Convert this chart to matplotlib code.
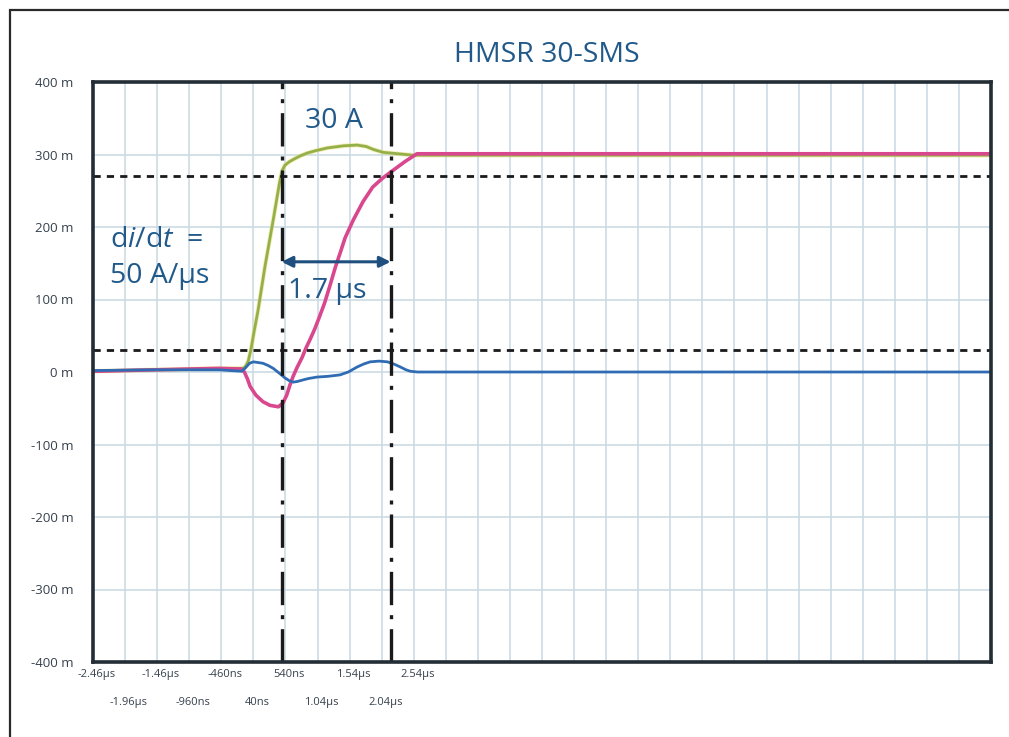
import numpy as np
import matplotlib
matplotlib.use("Agg")
import matplotlib.pyplot as plt
from matplotlib.patches import Rectangle

W, H = 1009, 737

# time base in microseconds, signal values in milli-units
T_MIN, T_MAX = -2.46, 11.54
GRID_STEP = 0.5
Y_TICKS = [-400, -300, -200, -100, 0, 100, 200, 300, 400]

x_labels = ["-2.46µs", "-1.96µs", "-1.46µs", "-960ns", "-460ns", "40ns",
            "540ns", "1.04µs", "1.54µs", "2.04µs", "2.54µs"]

# reference current (green)
green_t = [-2.46, -1.5, -0.5, -0.12, -0.08, -0.04, 0.0, 0.05, 0.115, 0.22,
           0.35, 0.45, 0.49, 0.53, 0.6, 0.68, 0.77, 0.88, 1.0, 1.19, 1.45,
           1.66, 1.8, 1.91, 2.06, 2.3, 2.53, 11.54]
green_v = [1, 3, 5, 5, 8, 15, 30, 55, 86, 145, 210, 262, 278, 285, 290, 294,
           298, 302, 305, 309, 312, 313, 311, 307, 303, 301, 299, 299]

# sensor output (pink)
pink_t = [-2.46, -1.5, -0.5, -0.14, -0.1, -0.05, -0.01, 0.08, 0.19, 0.3,
          0.43, 0.5, 0.56, 0.61, 0.66, 0.72, 0.8, 0.86, 0.93, 1.0, 1.07,
          1.15, 1.23, 1.32, 1.4, 1.47, 1.6, 1.75, 1.9, 2.05, 2.2, 2.4,
          2.59, 11.54]
pink_v = [1, 3, 5, 4, 0, -10, -20, -32, -41, -46, -48, -43, -32, -18, -6,
          6, 20, 33, 46, 60, 76, 95, 118, 145, 166, 185, 210, 235, 255,
          267, 277, 290, 301, 301]

# error signal (blue)
blue_t = [-2.46, -1.5, -0.5, -0.14, -0.08, -0.02, 0.04, 0.12, 0.19, 0.27,
          0.35, 0.45, 0.53, 0.6, 0.66, 0.73, 0.81, 0.9, 1.03, 1.2, 1.39,
          1.52, 1.66, 1.76, 1.86, 2.0, 2.13, 2.23, 2.33, 2.42, 2.49, 2.6,
          11.54]
blue_v = [2, 3, 3, 1, 6, 12, 14, 13, 12, 9, 5, -2, -8, -12, -14, -13, -11,
          -9, -7, -6, -4, 0, 7, 11, 14, 15, 14, 11, 7, 3, 1, 0, 0]

LEVEL_LO, LEVEL_HI = 30, 270
MARK_A, MARK_B = 0.48, 2.18
ARROW_Y = 152

TXT = "#215a8a"
TICK = "#36414c"
BIG = 20.5

plt.rcParams["font.family"] = ["Open Sans", "DejaVu Sans"]
plt.rcParams["mathtext.fontset"] = "custom"
plt.rcParams["mathtext.rm"] = "Open Sans"
plt.rcParams["mathtext.it"] = "Open Sans:italic"


def px(x, y):
    return x / W, 1 - y / H


fig = plt.figure(figsize=(W / 100, H / 100), dpi=100)
fig.patch.set_facecolor("white")

# outer frame running off the right and bottom edges
fig.patches.append(Rectangle(px(10, 760), 1.2, (760 - 10) / H,
                             transform=fig.transFigure, fill=False,
                             edgecolor="#2a2a2a", lw=1.6))

ax = fig.add_axes([93 / W, 1 - 662 / H, 898 / W, 580 / H])
ax.set_xlim(T_MIN, T_MAX)
ax.set_ylim(-400, 400)

grid_x = np.arange(T_MIN, T_MAX + 1e-6, GRID_STEP)
ax.set_xticks(grid_x)
ax.set_xticklabels([])
ax.set_yticks(Y_TICKS)
ax.set_yticklabels([f"{v} m" for v in Y_TICKS], fontsize=9.5, color=TICK)
ax.tick_params(length=0, pad=14)
ax.grid(True, color="#c9d8e3", lw=1.1)
ax.set_axisbelow(True)
for s in ax.spines.values():
    s.set_color("#222d35")
    s.set_linewidth(2.6)

# staggered time labels below the axis
for i, lab in enumerate(x_labels):
    tx = T_MIN + i * GRID_STEP
    yy = -0.022 if i % 2 == 0 else -0.07
    ax.text(tx + 0.06, yy, lab, transform=ax.get_xaxis_transform(),
            ha="center", va="center", fontsize=8, color=TICK)

ax.plot(green_t, green_v, color="#e8dc6a", lw=3.2, alpha=0.5,
        solid_capstyle="butt")
ax.plot(green_t, green_v, color="#95b04a", lw=2)
ax.plot(pink_t, pink_v, color="#d9488f", lw=2.6)
ax.plot(blue_t, blue_v, color="#2f6cb3", lw=2)

for lvl in (LEVEL_LO, LEVEL_HI):
    ax.axhline(lvl, color="#1a1a1a", lw=2, dashes=(2.6, 2.2))
for mk in (MARK_A, MARK_B):
    ax.axvline(mk, color="#1a1a1a", lw=2.4, dashes=(10, 3, 1.2, 3))

ax.annotate("", xy=(MARK_A, ARROW_Y), xytext=(MARK_B, ARROW_Y),
            arrowprops=dict(arrowstyle="<|-|>", color="#1f4f7f", lw=2.2,
                            mutation_scale=16, shrinkA=0, shrinkB=0))

fig.text(*px(547, 55), "HMSR 30-SMS", ha="center", va="center",
         fontsize=BIG, color=TXT)
fig.text(*px(305, 128), "30 A", ha="left", va="baseline", fontsize=BIG,
         color=TXT)
fig.text(*px(110, 247), r"d$\mathit{i}$/d$\mathit{t}$  =", ha="left",
         va="baseline", fontsize=BIG, color=TXT)
fig.text(*px(110, 283), "50 A/µs", ha="left", va="baseline", fontsize=BIG,
         color=TXT)
fig.text(*px(288, 298), "1.7 µs", ha="left", va="baseline", fontsize=BIG,
         color=TXT)

fig.savefig("out.png", dpi=100, facecolor="white")
